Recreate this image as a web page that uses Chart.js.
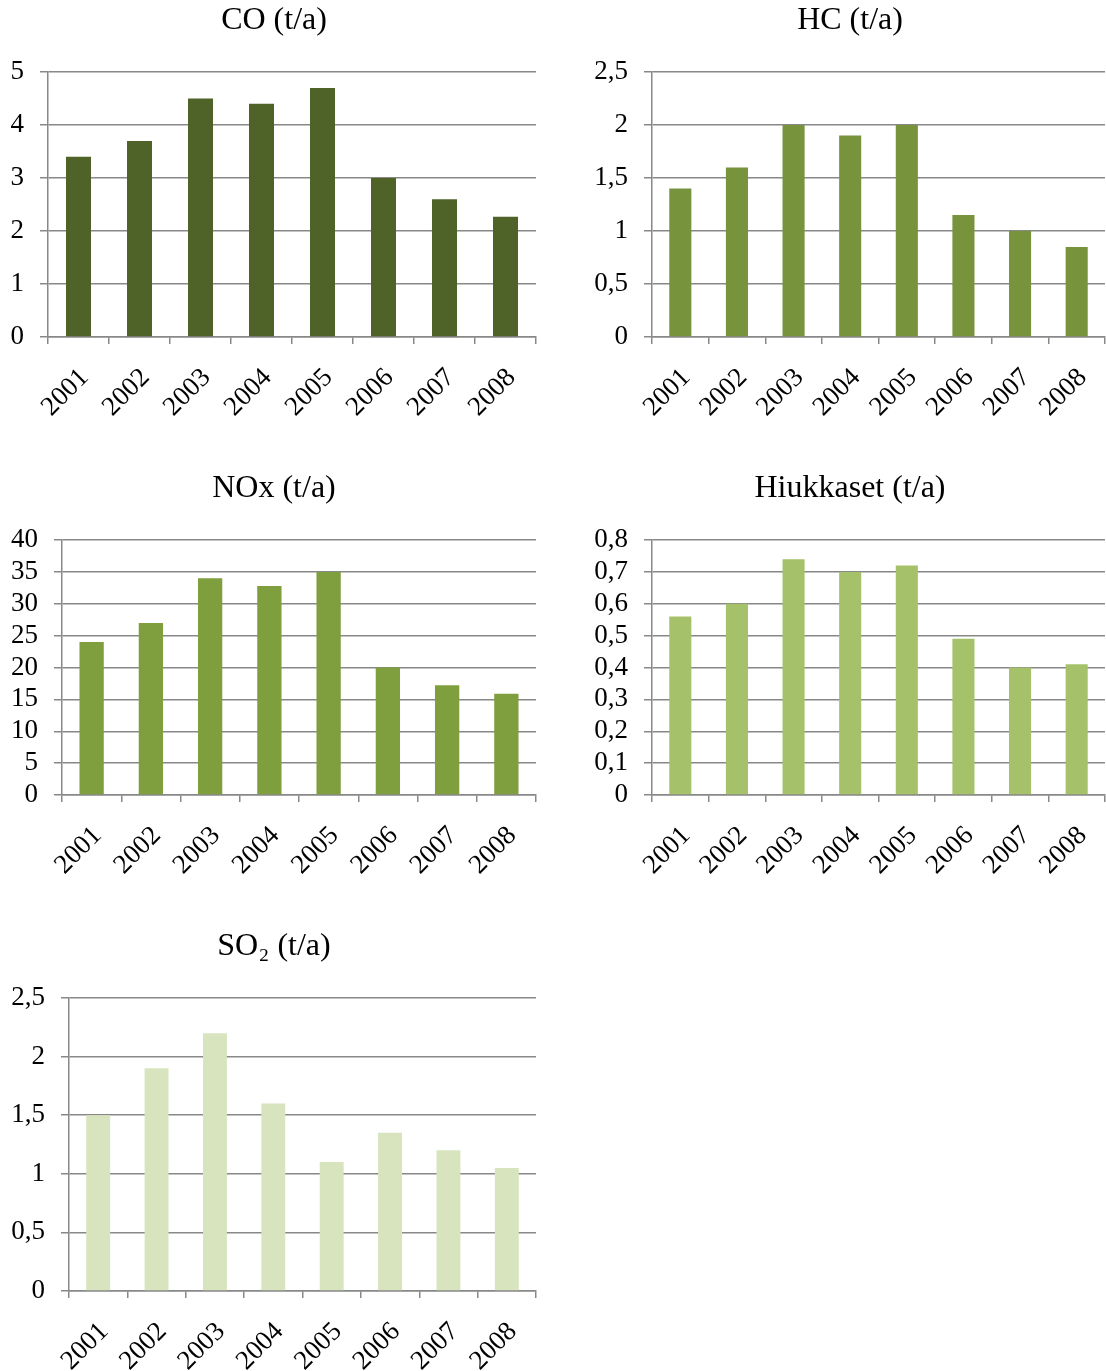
<!DOCTYPE html>
<html>
<head>
<meta charset="utf-8">
<script src="https://cdn.jsdelivr.net/npm/chart.js@4/dist/chart.umd.min.js"></script>
<style>
  html, body { margin: 0; padding: 0; background: #fff; overflow: hidden; }
  body { width: 1106px; height: 1371px; position: relative; }
  .box { position: absolute; }
</style>
</head>
<body>
<div class="box" style="left:0;top:0;width:548px;height:420px"><canvas id="co"></canvas></div>
<div class="box" style="left:590px;top:0;width:520px;height:420px"><canvas id="hc"></canvas></div>
<div class="box" style="left:0;top:468px;width:548px;height:410px"><canvas id="nox"></canvas></div>
<div class="box" style="left:590px;top:468px;width:520px;height:410px"><canvas id="pm"></canvas></div>
<div class="box" style="left:0;top:926px;width:548px;height:448px"><canvas id="so2"></canvas></div>
<script>
const years = ["2001", "2002", "2003", "2004", "2005", "2006", "2007", "2008"];

// Päästöt vuosittain (t/a)
const coValues = [3.4, 3.7, 4.5, 4.4, 4.7, 3.0, 2.6, 2.27];
const hcValues = [1.4, 1.6, 2.0, 1.9, 2.0, 1.15, 1.0, 0.85];
const noxValues = [24, 27, 34, 32.8, 35, 20, 17.2, 15.9];
const pmValues = [0.56, 0.60, 0.74, 0.70, 0.72, 0.49, 0.40, 0.41];
const so2Values = [1.5, 1.9, 2.2, 1.6, 1.1, 1.35, 1.2, 1.05];

const serif = "'Liberation Serif', 'Times New Roman', serif";
const gridGray = "#888888";

function fiNumber(value) {
  return String(Number(value.toFixed(2))).replace(".", ",");
}

function makeChart(id, title, values, color, opts) {
  const ctx = document.getElementById(id).getContext("2d");
  return new Chart(ctx, {
    type: "bar",
    data: {
      labels: years,
      datasets: [{
        data: values,
        backgroundColor: color,
        borderWidth: 0,
        categoryPercentage: 1,
        barPercentage: opts.barPct,
      }],
    },
    options: {
      responsive: true,
      maintainAspectRatio: false,
      animation: false,
      layout: { padding: 0 },
      plugins: {
        legend: { display: false },
        tooltip: { enabled: false },
        title: {
          display: true,
          text: title,
          color: "#000",
          font: { family: serif, size: 32, weight: "normal" },
          padding: { top: 1, bottom: 32.6 },
        },
      },
      scales: {
        x: {
          grid: {
            offset: true,
            drawOnChartArea: false,
            color: gridGray,
            lineWidth: 1.5,
            tickLength: 7,
          },
          border: { color: gridGray, width: 1.5 },
          ticks: {
            color: "#000",
            font: { family: serif, size: 27 },
            minRotation: 45,
            maxRotation: 45,
            autoSkip: false,
            padding: 18,
            labelOffset: 6,
          },
          afterFit: (scale) => {
            scale.height = 83;
            // fixed gap on the right instead of the rotated-label overflow
            scale.paddingLeft = 0;
            scale.paddingRight = opts.padRight;
          },
        },
        y: {
          min: 0,
          max: opts.max,
          grid: { color: gridGray, lineWidth: 1.5, tickLength: 8 },
          border: { color: gridGray, width: 1.5 },
          ticks: {
            stepSize: opts.step,
            autoSkip: false,
            color: "#000",
            font: { family: serif, size: 27 },
            padding: 16,
            callback: (v) => fiNumber(v),
          },
          afterFit: (scale) => { scale.width = opts.axisWidth; },
        },
      },
    },
  });
}

makeChart("co", "CO (t/a)", coValues, "#4F6228",
  { max: 5, step: 1, axisWidth: 48, padRight: 12, barPct: 0.41 });
makeChart("hc", "HC (t/a)", hcValues, "#77933C",
  { max: 2.5, step: 0.5, axisWidth: 62, padRight: 5, barPct: 0.39 });
makeChart("nox", "NOx (t/a)", noxValues, "#7F9F3F",
  { max: 40, step: 5, axisWidth: 62, padRight: 12, barPct: 0.41 });
makeChart("pm", "Hiukkaset (t/a)", pmValues, "#A5C26A",
  { max: 0.8, step: 0.1, axisWidth: 62, padRight: 5, barPct: 0.39 });
makeChart("so2", "SO\u2082 (t/a)", so2Values, "#D7E4BD",
  { max: 2.5, step: 0.5, axisWidth: 69, padRight: 12, barPct: 0.41 });
</script>
</body>
</html>
